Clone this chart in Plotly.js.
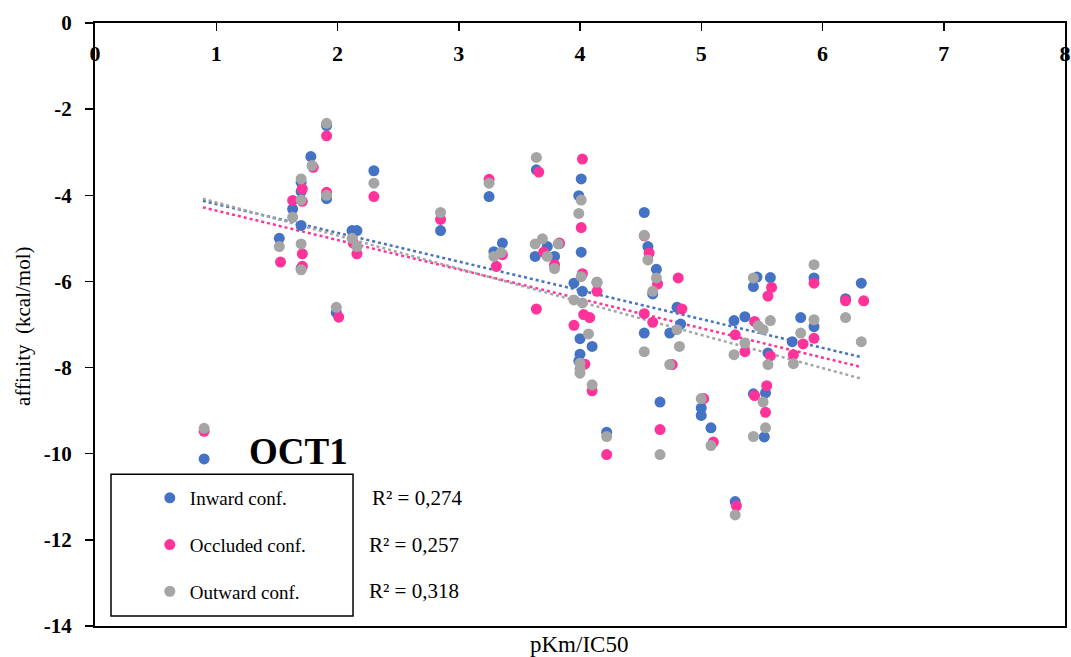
<!DOCTYPE html>
<html>
<head>
<meta charset="utf-8">
<script src="https://cdn.plot.ly/plotly-3.0.1.min.js"></script>
<style>html,body{margin:0;padding:0;background:#fff;}#chart{width:1071px;height:657px;}</style>
</head>
<body>
<div id="chart"></div>
<script>
// ---- data ----
const seriesNames = ["Inward conf.", "Occluded conf.", "Outward conf."];
const r2Labels = ["R² = 0,274", "R² = 0,257", "R² = 0,318"];

const inwardX = [0.90,1.52,1.63,1.70,1.70,1.70,1.70,1.78,1.91,1.91,1.99,2.12,2.16,2.30,2.85,3.25,3.29,3.36,3.64,3.63,3.73,3.79,3.83,3.95,4.01,3.99,4.01,4.02,4.00,4.00,3.99,4.10,4.14,4.22,4.53,4.56,4.63,4.60,4.53,4.66,4.74,4.80,4.83,5.00,5.00,5.08,5.28,5.27,5.36,5.43,5.46,5.57,5.43,5.53,5.52,5.55,5.75,5.82,5.93,5.93,6.19,6.32];
const inwardY = [-10.12,-5.00,-4.32,-3.70,-3.91,-4.70,-5.70,-3.10,-4.08,-2.38,-6.72,-4.82,-4.82,-3.43,-4.82,-4.03,-5.31,-5.11,-3.41,-5.42,-5.19,-5.42,-5.12,-6.04,-3.62,-4.01,-5.32,-6.23,-7.33,-7.69,-7.85,-7.51,-6.02,-9.50,-4.40,-5.19,-5.72,-6.29,-7.20,-8.80,-7.20,-6.60,-6.99,-8.94,-9.11,-9.40,-11.11,-6.91,-6.82,-6.12,-5.90,-5.91,-8.61,-8.59,-9.61,-7.66,-7.40,-6.84,-5.92,-7.05,-6.40,-6.04];

const occludedX = [0.90,1.53,1.63,1.71,1.71,1.71,1.71,1.80,1.91,1.91,2.01,2.13,2.16,2.30,2.85,3.25,3.31,3.36,3.66,3.64,3.70,3.79,3.83,4.02,4.01,4.02,4.03,4.08,3.95,4.04,4.10,4.14,4.22,4.53,4.57,4.64,4.53,4.60,4.81,4.84,4.66,4.76,5.02,5.10,5.29,5.28,5.44,5.58,5.55,5.44,5.54,5.53,5.36,5.57,5.76,5.84,5.93,5.93,6.19,6.34];
const occludedY = [-9.48,-5.55,-4.12,-3.85,-4.14,-5.36,-5.65,-3.35,-2.62,-3.93,-6.83,-5.11,-5.36,-4.03,-4.56,-3.63,-5.65,-5.38,-3.46,-6.64,-5.32,-5.61,-5.11,-3.16,-4.75,-5.82,-6.77,-6.84,-7.02,-7.92,-8.54,-6.23,-10.02,-4.94,-5.34,-6.06,-6.75,-6.95,-5.92,-6.64,-9.44,-7.93,-8.72,-9.73,-11.21,-7.24,-6.93,-6.14,-6.34,-8.65,-8.42,-9.04,-7.63,-7.73,-7.70,-7.45,-6.04,-7.32,-6.45,-6.45];

const outwardX = [0.90,1.52,1.63,1.70,1.70,1.70,1.70,1.79,1.91,1.91,1.99,2.12,2.16,2.30,2.85,3.25,3.29,3.35,3.64,3.63,3.69,3.73,3.79,3.82,4.01,3.99,4.01,3.95,4.02,4.07,4.00,4.00,4.00,4.14,4.10,4.22,4.53,4.56,4.63,4.60,4.53,4.80,4.82,4.74,4.66,5.00,5.08,5.28,5.27,5.43,5.47,5.51,5.57,5.36,5.55,5.51,5.53,5.43,5.93,5.93,5.82,5.76,6.19,6.32];
const outwardY = [-9.41,-5.19,-4.51,-3.62,-4.11,-5.13,-5.73,-3.31,-2.33,-4.00,-6.60,-5.00,-5.19,-3.72,-4.40,-3.72,-5.42,-5.33,-3.12,-5.13,-5.01,-5.42,-5.70,-5.13,-4.11,-4.42,-5.89,-6.43,-6.50,-7.22,-7.90,-8.03,-8.13,-6.02,-8.40,-9.60,-4.93,-5.50,-5.92,-6.23,-7.63,-7.12,-7.51,-7.93,-10.02,-8.72,-9.81,-11.42,-7.70,-5.92,-7.03,-7.12,-6.91,-7.43,-7.93,-8.80,-9.40,-9.60,-5.61,-6.89,-7.20,-7.91,-6.84,-7.40];

// linear trendline end points
const trendX = [0.89, 6.31];
const inwardTrendY = [-4.13, -7.75];
const occludedTrendY = [-4.28, -7.98];
const outwardTrendY = [-4.08, -8.25];

const yTicks = [0, -2, -4, -6, -8, -10, -12, -14];
const xTicks = [0, 1, 2, 3, 4, 5, 6, 7, 8];

// ---- styling ----
const colors = ["#4472C4", "#FF3399", "#A5A5A5"];
const serif = "Liberation Serif, Times New Roman, serif";

const xs = [inwardX, occludedX, outwardX];
const ys = [inwardY, occludedY, outwardY];
const ts = [inwardTrendY, occludedTrendY, outwardTrendY];

const traces = [];
for (let i = 0; i < 3; i++) {
  traces.push({
    x: trendX, y: ts[i], type: "scatter", mode: "lines",
    line: {color: colors[i], width: 2.5, dash: "dot"},
    showlegend: false, hoverinfo: "skip", legendgroup: "g" + i
  });
}
for (let i = 0; i < 3; i++) {
  traces.push({
    x: xs[i], y: ys[i], type: "scatter", mode: "markers",
    name: seriesNames[i], legendgroup: "g" + i,
    marker: {color: colors[i], size: 11}
  });
}

const ann = [
  {text: "OCT1", xref: "paper", yref: "paper", x: 0.2093, y: 0.2886, xanchor: "center", yanchor: "middle",
   showarrow: false, font: {family: serif, size: 37, color: "#000", weight: "bold"}},
  {text: "pKm/IC50", xref: "paper", yref: "paper", x: 0.499, y: -0.007, xanchor: "center", yanchor: "top",
   showarrow: false, font: {family: serif, size: 23, color: "#000"}},
  {text: "affinity  (kcal/mol)", xref: "paper", yref: "paper", x: -0.0742, y: 0.496, xanchor: "center", yanchor: "middle",
   textangle: -90, showarrow: false, font: {family: serif, size: 21, color: "#000"}}
];
const r2y = [0.2123, 0.1343, 0.058];
const r2x = [0.2835, 0.2800, 0.2800];
for (let i = 0; i < 3; i++) {
  ann.push({text: r2Labels[i], xref: "paper", yref: "paper", x: r2x[i], y: r2y[i], xanchor: "left", yanchor: "middle",
    showarrow: false, font: {family: serif, size: 21, color: "#000"}});
}

const layout = {
  width: 1071, height: 657,
  margin: {l: 95, r: 6, t: 23, b: 31, pad: 0},
  paper_bgcolor: "#fff", plot_bgcolor: "#fff",
  font: {family: serif, color: "#000"},
  xaxis: {
    range: [0, 8], side: "top", tickvals: xTicks, ticktext: xTicks.map(String),
    ticks: "inside", ticklen: 8, tickwidth: 1.5, tickcolor: "#000",
    ticklabelposition: "inside", ticklabeloverflow: "allow", ticklabelstandoff: 16,
    tickfont: {family: serif, size: 22, color: "#000", weight: "bold"},
    showline: true, linecolor: "#000", linewidth: 2, mirror: true,
    showgrid: false, zeroline: false
  },
  yaxis: {
    range: [-14, 0], tickvals: yTicks, ticktext: yTicks.map(String),
    ticks: "outside", ticklen: 8, tickwidth: 1.5, tickcolor: "#000",
    ticklabelstandoff: 9,
    tickfont: {family: serif, size: 21, color: "#000", weight: "bold"},
    showline: true, linecolor: "#000", linewidth: 2, mirror: true,
    showgrid: false, zeroline: false
  },
  showlegend: true,
  legend: {
    x: 0.0565, y: 0.2438, xanchor: "left", yanchor: "top",
    bgcolor: "rgba(0,0,0,0)", borderwidth: 0,
    font: {family: serif, size: 19, color: "#000"},
    tracegroupgap: 19, itemwidth: 30, traceorder: "grouped"
  },
  shapes: [
    {type: "rect", xref: "paper", yref: "paper", x0: 0.0165, x1: 0.266, y0: 0.0166, y1: 0.2516,
     line: {color: "#000", width: 1.5}, fillcolor: "rgba(0,0,0,0)", layer: "below"}
  ],
  annotations: ann
};

Plotly.newPlot("chart", traces, layout, {displayModeBar: false, staticPlot: true});
</script>
</body>
</html>
